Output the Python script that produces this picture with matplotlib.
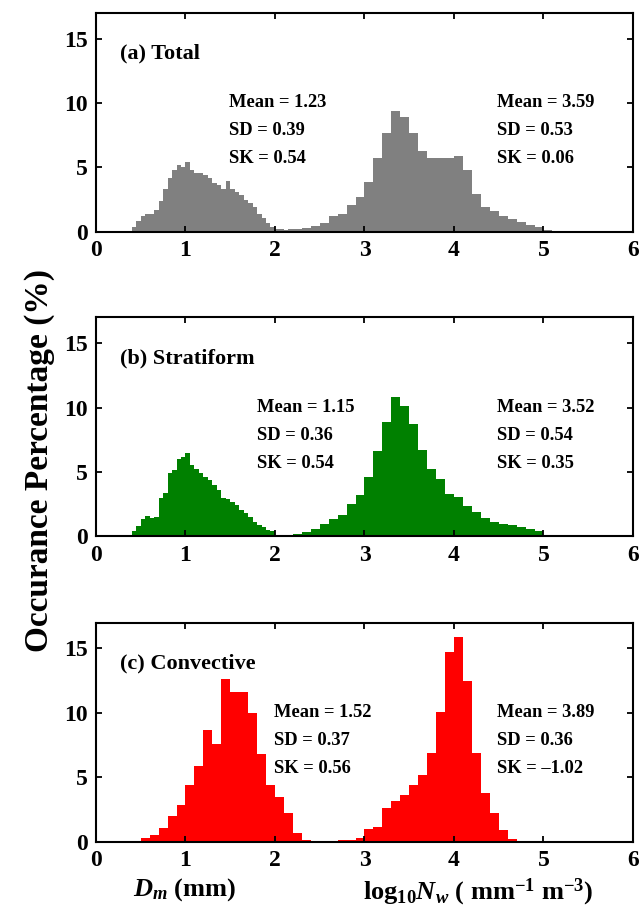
import matplotlib
matplotlib.use('Agg')
import matplotlib.pyplot as plt
import numpy as np

plt.rcParams['font.family'] = 'Liberation Serif'
plt.rcParams['font.weight'] = 'bold'
plt.rcParams['mathtext.fontset'] = 'custom'
plt.rcParams['mathtext.rm'] = 'Liberation Serif:bold'
plt.rcParams['mathtext.bf'] = 'Liberation Serif:bold'
plt.rcParams['mathtext.it'] = 'Liberation Serif:italic:bold'
plt.rcParams['mathtext.bfit'] = 'Liberation Serif:italic:bold'

# Dm histograms (%), bins 0.05 mm from 0.40 (a, b) / 0.1 mm from 0.5 (c)
a_dm = [0.35, 0.8, 1.2, 1.4, 1.35, 1.7, 2.35, 3.35, 4.15, 4.8, 5.2, 5.05, 5.45, 4.8,
        4.55, 4.55, 4.4, 4.15, 3.75, 3.6, 3.35, 3.95, 3.35, 3.1, 2.85, 2.5, 2.2, 1.9,
        1.4, 1.05, 0.65, 0.4, 0.25, 0.2, 0.15, 0.2]
b_dm = [0.45, 0.8, 1.35, 1.6, 1.4, 1.5, 3.0, 3.35, 4.9, 5.15, 6.05, 6.2, 6.45, 5.55,
        5.2, 4.9, 4.65, 4.4, 4.0, 3.6, 3.0, 2.9, 2.7, 2.45, 2.05, 1.8, 1.5, 1.15,
        0.9, 0.7, 0.5, 0.4, 0.12, 0.05, 0.05, 0.05]
c_dm = [0.25, 0.5, 1.05, 2.0, 2.85, 4.4, 5.9, 8.7, 7.6, 12.6, 11.6, 11.6, 10.0, 6.8,
        4.4, 3.5, 2.2, 0.7, 0.1, 0.03]

# log10 Nw histograms (%), bins 0.1 from 2.2 (a, b) / 2.5 (c)
a_nw = [0.25, 0.3, 0.45, 0.7, 1.2, 1.4, 2.1, 2.7, 3.9, 5.7, 7.7, 9.4, 8.9, 7.7, 6.25,
        5.7, 5.7, 5.7, 5.9, 4.8, 2.9, 1.9, 1.6, 1.2, 1.0, 0.75, 0.5, 0.4, 0.15, 0.05, 0.02]
b_nw = [0.2, 0.35, 0.6, 1.0, 1.35, 1.65, 2.5, 3.2, 4.6, 6.65, 8.85, 10.85, 10.15, 8.75,
        6.7, 5.25, 4.45, 3.3, 3.05, 2.4, 1.9, 1.4, 1.15, 1.0, 0.9, 0.7, 0.6, 0.4, 0.15,
        0.05, 0.02]
c_nw = [0.05, 0.08, 0.15, 0.13, 0.25, 0.95, 1.15, 2.65, 3.15, 3.6, 4.4, 5.2, 6.9, 10.1,
        14.7, 15.9, 12.5, 6.9, 3.8, 2.25, 0.9, 0.2, 0.08, 0.03]

titles = ['(a) Total', '(b) Stratiform', '(c) Convective']
dm_stats = [('1.23', '0.39', '0.54'), ('1.15', '0.36', '0.54'), ('1.52', '0.37', '0.56')]
nw_stats = [('3.59', '0.53', '0.06'), ('3.52', '0.54', '0.35'), ('3.89', '0.36', '\u20131.02')]
colors = ['#808080', '#008000', '#ff0000']

dm_bins = [(0.40, 0.05), (0.40, 0.05), (0.5, 0.1)]
nw_bins = [(2.2, 0.1), (2.2, 0.1), (2.5, 0.1)]
dm_data = [a_dm, b_dm, c_dm]
nw_data = [a_nw, b_nw, c_nw]
dm_text_x = [1.49, 1.80, 1.99]

fig = plt.figure(figsize=(6.42, 9.24), dpi=100)
bottoms = [0.7492, 0.4194, 0.0891]

for i in range(3):
    ax = fig.add_axes([0.1495, bottoms[i], 0.8364, 0.237])
    for data, (start, w) in [(dm_data[i], dm_bins[i]), (nw_data[i], nw_bins[i])]:
        edges = start + w * np.arange(len(data) + 1)
        ax.stairs(data, edges, fill=True, color=colors[i], linewidth=0)
    ax.set_xlim(0, 6)
    ax.set_ylim(0, 17)
    ax.set_xticks(range(7))
    ax.set_yticks([0, 5, 10, 15])
    ax.tick_params(direction='in', top=True, right=True, length=4, width=1.3,
                   labelsize=17, pad=6)
    for s in ax.spines.values():
        s.set_linewidth(1.5)
    ax.text(0.27, 13.85, titles[i], fontsize=16, fontweight='bold', va='center')
    m, sd, sk = dm_stats[i]
    for j, t in enumerate(['Mean = ' + m, 'SD = ' + sd, 'SK = ' + sk]):
        ax.text(dm_text_x[i], 10.0 - 2.15 * j, t, fontsize=13.3, fontweight='bold', va='center')
    m, sd, sk = nw_stats[i]
    for j, t in enumerate(['Mean = ' + m, 'SD = ' + sd, 'SK = ' + sk]):
        ax.text(4.48, 10.0 - 2.15 * j, t, fontsize=13.3, fontweight='bold', va='center')

fig.text(40 / 642, 1 - 460 / 924, 'Occurance Percentage (%)', rotation=90,
         fontsize=24, fontweight='bold', ha='center', va='center')
fig.text(185 / 642, 1 - 890 / 924, r'$\mathbfit{D}_{\mathbfit{m}}$ (mm)',
         fontsize=19, fontweight='bold', ha='center', va='center')
fig.text(478 / 642, 1 - 892 / 924,
         r'log$_{\mathbf{10}}\mathbfit{N}_{\mathbfit{w}}$ ( mm$^{\mathbf{-1}}$ m$^{\mathbf{-3}}$)',
         fontsize=19, fontweight='bold', ha='center', va='center')

fig.savefig('out.png', dpi=100)
